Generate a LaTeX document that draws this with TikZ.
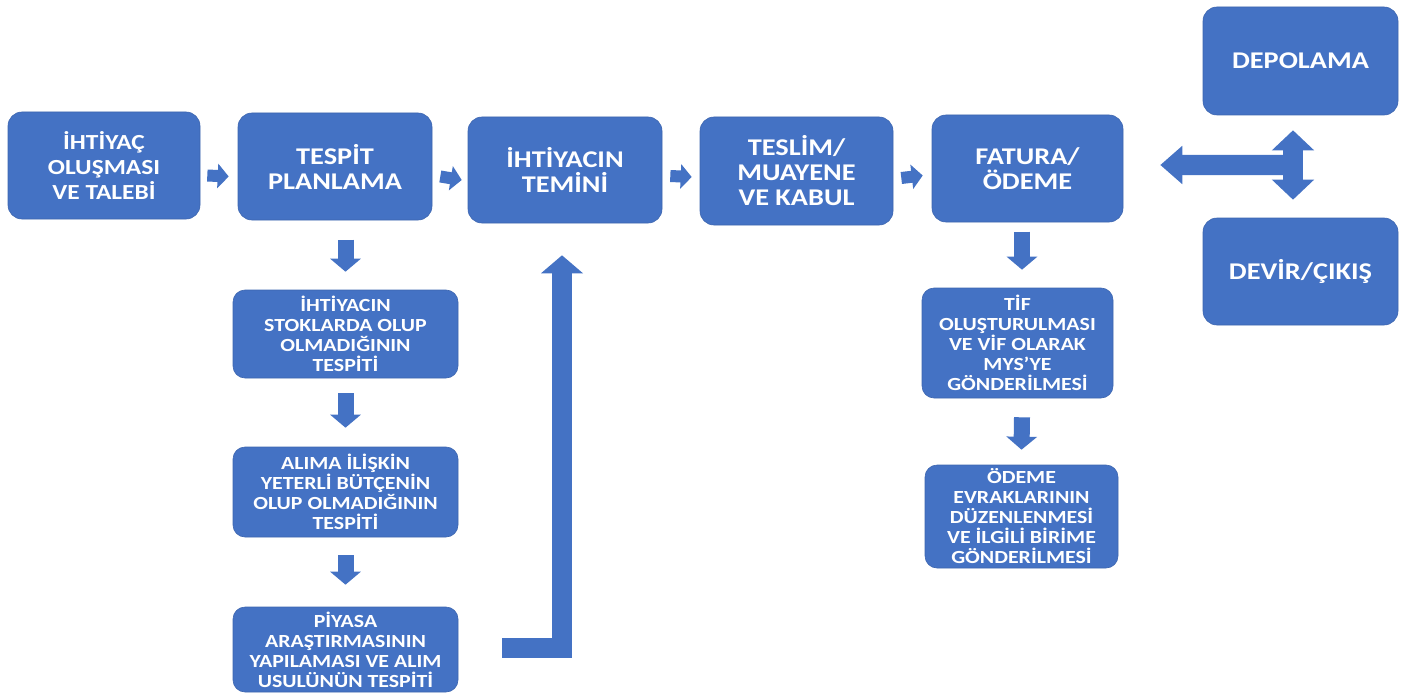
\documentclass[tikz,border=0pt]{standalone}
\usepackage{fontspec}
\newfontfamily\bxfont{Carlito}[FakeStretch=1.18]
\usetikzlibrary{arrows.meta,calc}
\definecolor{boxblue}{HTML}{4472C4}
\definecolor{boxedge}{HTML}{3D66B0}
\begin{document}
\begin{tikzpicture}[x=1pt,y=-1pt,
  box/.style={fill=boxblue, draw=boxedge, line width=0.6pt, rounded corners=14pt,
    text=white, align=center, inner sep=2pt},
  mainbox/.style={box, font=\bxfont\bfseries\fontsize{24}{25}\selectfont},
  smallmain/.style={box, font=\bxfont\bfseries\fontsize{21.5}{25}\selectfont},
  subbox/.style={box, rounded corners=12pt, font=\bxfont\bfseries\fontsize{18.5}{20}\selectfont},
  smallarrow/.style={draw=boxblue, line width=12pt, -{Triangle[length=11pt,width=24pt]}},
  downarrow/.style={draw=boxblue, line width=16pt, -{Triangle[length=13pt,width=30pt]}},
  bigarrow/.style={draw=boxblue, line width=20pt, line join=miter, -{Triangle[length=18pt,width=41pt]}},
  dblarrow/.style={draw=boxblue, line width=20pt, {Triangle[length=20pt,width=41pt]}-{Triangle[length=20pt,width=41pt]}},
  leftarrow/.style={draw=boxblue, line width=20pt, -{Triangle[length=22pt,width=37pt]}}
]
\fill[white] (0,0) rectangle (1416,698);
\useasboundingbox (0,0) rectangle (1416,698);

% main row
\node[smallmain, minimum width=192pt, minimum height=107pt] (n1) at (104,165.5) {İHTİYAÇ\\OLUŞMASI\\VE TALEBİ};
\node[mainbox, minimum width=194pt, minimum height=107pt] (n2) at (335,166.5) {TESPİT\\PLANLAMA};
\node[mainbox, minimum width=194pt, minimum height=106pt] (n3) at (565,170) {İHTİYACIN\\TEMİNİ};
\node[mainbox, minimum width=193pt, minimum height=108pt] (n4) at (796.5,171) {TESLİM/\\MUAYENE\\VE KABUL};
\node[mainbox, minimum width=191pt, minimum height=107pt] (n5) at (1027.5,168.5) {FATURA/\\ÖDEME};
\node[mainbox, minimum width=195pt, minimum height=108pt] (dep) at (1300.5,61) {DEPOLAMA};
\node[mainbox, minimum width=195pt, minimum height=107pt] (dev) at (1300.5,271.5) {DEVİR/ÇIKIŞ};

% left column
\node[subbox, minimum width=225pt, minimum height=88pt] (s1) at (345.5,334) {İHTİYACIN\\STOKLARDA OLUP\\OLMADIĞININ\\TESPİTİ};
\node[subbox, minimum width=225pt, minimum height=90pt] (s2) at (345.5,492) {ALIMA İLİŞKİN\\YETERLİ BÜTÇENİN\\OLUP OLMADIĞININ\\TESPİTİ};
\node[subbox, minimum width=225pt, minimum height=85pt] (s3) at (345.5,649.5) {PİYASA\\ARAŞTIRMASININ\\YAPILAMASI VE ALIM\\USULÜNÜN TESPİTİ};

% right column
\node[subbox, minimum width=191pt, minimum height=110pt] (r1) at (1017.5,343) {TİF\\OLUŞTURULMASI\\VE VİF OLARAK\\MYS’YE\\GÖNDERİLMESİ};
\node[subbox, minimum width=193pt, minimum height=103pt] (r2) at (1021.5,516.5) {ÖDEME\\EVRAKLARININ\\DÜZENLENMESİ\\VE İLGİLİ BİRİME\\GÖNDERİLMESİ};

% small right arrows along the main row
\draw[smallarrow] ([xshift=7pt,yshift=-10pt]n1.east) -- ([xshift=-9pt,yshift=-10pt]n2.west);
\draw[smallarrow] ([xshift=8pt,yshift=-10pt]n2.east) -- ([xshift=-6pt,yshift=-10pt]n3.west);
\draw[smallarrow] ([xshift=8pt,yshift=-6pt]n3.east) -- ([xshift=-8pt,yshift=-6pt]n4.west);
\draw[smallarrow] ([xshift=8pt,yshift=-7pt]n4.east) -- ([xshift=-9pt,yshift=-7pt]n5.west);

% down arrows, left column
\draw[downarrow] ([yshift=50pt]s1.north) -- ([yshift=18pt]s1.north);
\draw[downarrow] ([yshift=-15pt]s1.south) -- ([yshift=19pt]s2.north);
\draw[downarrow] ([yshift=-18pt]s2.south) -- ([yshift=22pt]s3.north);

% down arrows, right column
\draw[downarrow] ([xshift=4.5pt,yshift=56pt]r1.north) -- ([xshift=4.5pt,yshift=18pt]r1.north);
\draw[downarrow] ([xshift=4.5pt,yshift=-19pt]r1.south) -- ([yshift=15pt]r2.north);

% bent arrow from the left column up to İHTİYACIN TEMİNİ
\draw[bigarrow] ([xshift=44pt,yshift=1.5pt]s3.east) -| ([xshift=-3pt,yshift=-32pt]n3.south);

% storage / transfer arrows
\coordinate (vt) at ([xshift=-7.5pt,yshift=-15pt]dep.south);
\coordinate (vb) at ([xshift=-7.5pt,yshift=18pt]dev.north);
\coordinate (vm) at ($(vt)!0.5!(vb)$);
\draw[dblarrow] (vt) -- (vb);
\draw[leftarrow] (vm) -- ([xshift=37pt,yshift=3.5pt]n5.east);
\end{tikzpicture}
\end{document}
